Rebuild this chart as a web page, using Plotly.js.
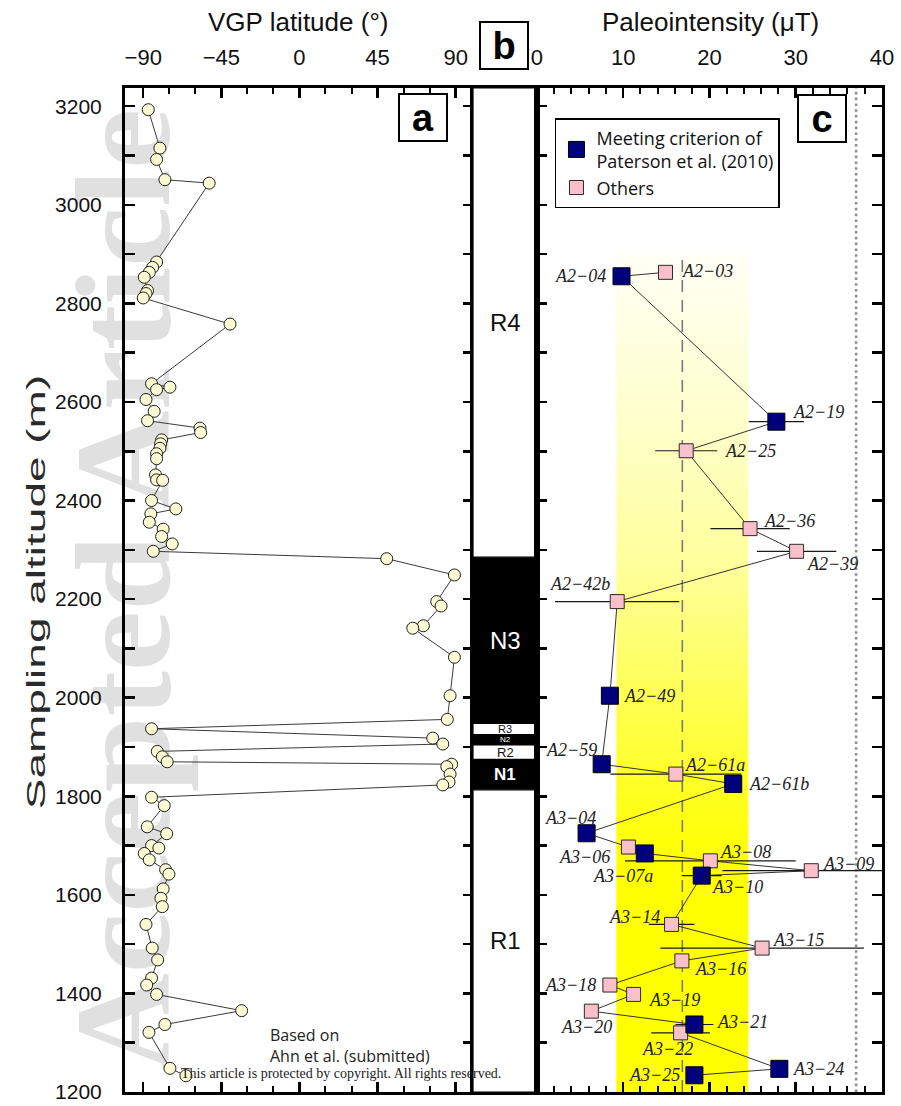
<!DOCTYPE html>
<html>
<head>
<meta charset="utf-8">
<script src="https://cdn.plot.ly/plotly-3.0.1.min.js"></script>
<style>
  html, body { margin: 0; padding: 0; background: #ffffff; }
  #chart { width: 901px; height: 1106px; }
</style>
</head>
<body>
<div id="chart"></div>
<script>
// ---------- Panel a: VGP latitude along the section ----------
const vgpAltitude = [
  3193, 3115, 3092, 3051, 3044, 2884, 2873, 2863, 2853, 2826, 2820, 2811, 2758,
  2637, 2630, 2625, 2605, 2581, 2562, 2547, 2538, 2523, 2515, 2506, 2495, 2485,
  2452, 2442, 2441, 2400, 2383, 2373, 2356, 2342, 2327, 2312, 2297, 2282, 2249,
  2195, 2186, 2146, 2141, 2082, 2004, 1956, 1937, 1918, 1906, 1891, 1880, 1870,
  1865, 1860, 1845, 1829, 1823, 1798, 1781, 1738, 1724, 1700, 1695, 1684, 1671,
  1651, 1642, 1612, 1593, 1576, 1540, 1492, 1468, 1431, 1417, 1398, 1365, 1337,
  1321, 1248, 1233
];
const vgpLatitude = [
  -87.1, -80.4, -82.3, -77.5, -52.0, -82.3, -84.6, -86.5, -89.4, -87.5, -88.4, -90.0, -40.0,
  -85.2, -74.6, -82.3, -88.4, -83.7, -87.5, -57.3, -56.9, -79.4, -80.0, -80.4, -82.3, -82.3,
  -82.9, -82.3, -78.8, -85.2, -71.2, -85.6, -86.5, -78.5, -79.4, -73.3, -84.2, 50.3, 89.3,
  79.1, 81.6, 71.4, 65.3, 89.3, 86.8, 85.2, -85.2, 76.8, 82.6, -81.9, -79.0, -76.2,
  87.7, 84.9, 86.8, 86.2, 82.6, -85.2, -77.9, -87.7, -76.5, -85.2, -81.0, -89.4, -86.5,
  -77.1, -75.2, -78.5, -79.8, -79.0, -88.4, -84.8, -81.7, -85.2, -88.0, -82.3, -33.3, -77.5,
  -86.7, -74.6, -65.4
];

// ---------- Panel b: magnetic polarity zones, top to bottom ----------
const polarityNames = ['R4', 'N3', 'R3', 'N2', 'R2', 'N1', 'R1'];
const polarityBoundaries = [2285, 1948, 1925, 1904, 1875, 1813];

// ---------- Panel c: paleointensity per sample ----------
const sampleNames = [
  'A2−03', 'A2−04', 'A2−19', 'A2−25', 'A2−36', 'A2−39', 'A2−42b', 'A2−49', 'A2−59',
  'A2−61a', 'A2−61b', 'A3−04', 'A3−06', 'A3−07a', 'A3−08', 'A3−09', 'A3−10', 'A3−14',
  'A3−15', 'A3−16', 'A3−18', 'A3−19', 'A3−20', 'A3−21', 'A3−22', 'A3−24', 'A3−25'
];
const sampleAltitude = [
  2863, 2855, 2560, 2501, 2343, 2297, 2195, 2004, 1865,
  1845, 1825, 1725, 1697, 1684, 1669, 1649, 1639, 1540,
  1492, 1466, 1417, 1398, 1364, 1337, 1320, 1247, 1234
];
const sampleIntensity = [
  14.9, 9.8, 27.75, 17.3, 24.7, 30.1, 9.3, 8.45, 7.5,
  16.1, 22.75, 5.75, 10.6, 12.5, 20.1, 31.8, 19.1, 15.6,
  26.1, 16.8, 8.45, 11.2, 6.3, 18.25, 16.65, 28.1, 18.25
];
const sampleError = [
  0, 0, 3.2, 3.6, 4.6, 4.6, 7.2, 0, 0,
  7.6, 0, 0, 0, 0, 9.9, 10.3, 2.3, 2.65,
  11.8, 0, 0, 0, 0, 2.2, 3.4, 0, 0
];
const meetsCriterion = [
  false, true, true, false, false, false, false, true, true,
  false, true, true, false, true, false, false, true, false,
  false, false, false, false, false, true, false, true, true
];

// Section mean and standard deviation, and the reference field value
const meanIntensity = 16.85;
const sdIntensity = 7.65;
const bandTopAltitude = 2900;
const referenceIntensity = 37.0;

// Axis extents
const altitudeRange = [1200, 3237];
const latitudeRange = [-100.5, 100];
const intensityRange = [0, 40];

// ---------- styling ----------
const SANS = '"Liberation Sans", Arial, sans-serif';
const SERIF = '"Liberation Serif", "Times New Roman", serif';
const HUMANIST = '"Open Sans", "Noto Sans", sans-serif';

const BLUE = '#00007f';
const PINK = '#f9c0cb';

// label offsets for each sample: [anchor, dx px, dy px]
const labelPlacement = [
  ['left', 14, 1], ['right', -14, 0], ['left', 15, 10], ['left', 37, 0], ['left', 12, 8],
  ['left', 8, -13], ['right', -5, 18], ['left', 12, 0], ['right', -3, 14], ['left', 7, 9],
  ['left', 14, 0], ['right', 11, 15], ['right', -16, -10], ['right', 10, -23], ['left', 8, 9],
  ['left', 10, 7], ['left', 8, -11], ['right', -10, 7], ['left', 9, 8], ['left', 11, -8],
  ['right', -12, 0], ['left', 13, -6], ['center', -5, -16], ['left', 21, 2], ['center', -13, -16],
  ['left', 12, 0], ['right', -12, 0]
];

// polarity label styling
const polarityLabelStyle = {
  R4: {size: 24, weight: 'normal'}, N3: {size: 24, weight: 'normal'},
  R3: {size: 11, weight: 'normal'}, N2: {size: 8, weight: 'normal'},
  R2: {size: 13, weight: 'normal'}, N1: {size: 17, weight: 'bold'},
  R1: {size: 24, weight: 'normal'}
};

// ---------- traces ----------
const traces = [];

// Panel a
traces.push({
  x: vgpLatitude, y: vgpAltitude, xaxis: 'x', yaxis: 'y',
  type: 'scatter', mode: 'lines+markers', showlegend: false, hoverinfo: 'skip',
  line: {color: '#3a3a3a', width: 1},
  marker: {symbol: 'circle', size: 12, color: '#fbfbd4', line: {color: '#1e1e1e', width: 1}}
});

// Panel c: shaded one-sigma band, fading toward the top
const bandLow = meanIntensity - sdIntensity;
const bandHigh = meanIntensity + sdIntensity;
traces.push({
  x: [bandLow, bandHigh, bandHigh, bandLow, bandLow],
  y: [bandTopAltitude, bandTopAltitude, altitudeRange[0], altitudeRange[0], bandTopAltitude],
  xaxis: 'x3', yaxis: 'y3', type: 'scatter', mode: 'none', fill: 'toself',
  fillgradient: {
    type: 'vertical',
    colorscale: [
      [0, '#ffff00'], [0.28, '#ffff00'], [0.45, '#ffff4a'],
      [0.62, '#ffff98'], [0.8, '#ffffcc'], [1, '#fffff6']
    ]
  },
  showlegend: false, hoverinfo: 'skip'
});

// mean value (dashed) and reference field (dotted)
traces.push({
  x: [meanIntensity, meanIntensity], y: [altitudeRange[0], bandTopAltitude],
  xaxis: 'x3', yaxis: 'y3', type: 'scatter', mode: 'lines',
  line: {color: '#7a7a7a', width: 1.6, dash: '12px,8px'},
  showlegend: false, hoverinfo: 'skip'
});
traces.push({
  x: [referenceIntensity, referenceIntensity], y: altitudeRange,
  xaxis: 'x3', yaxis: 'y3', type: 'scatter', mode: 'lines',
  line: {color: '#8f8f8f', width: 2.6, dash: '2.6px,3.2px'},
  showlegend: false, hoverinfo: 'skip'
});

// connecting line through all samples in stratigraphic order
traces.push({
  x: sampleIntensity, y: sampleAltitude, xaxis: 'x3', yaxis: 'y3',
  type: 'scatter', mode: 'lines', line: {color: '#333333', width: 1},
  showlegend: false, hoverinfo: 'skip'
});

function pick(arr, flag) { return arr.filter((_, i) => meetsCriterion[i] === flag); }

traces.push({
  name: 'Others',
  x: pick(sampleIntensity, false), y: pick(sampleAltitude, false),
  xaxis: 'x3', yaxis: 'y3', type: 'scatter', mode: 'markers', legendrank: 2,
  error_x: {type: 'data', array: pick(sampleError, false), visible: true, color: '#1a1a1a', thickness: 1.2, width: 0},
  marker: {symbol: 'square', size: 14, color: PINK, line: {color: '#2a2a2a', width: 1}},
  hoverinfo: 'skip'
});
traces.push({
  name: 'Meeting criterion of<br>Paterson et al. (2010)',
  x: pick(sampleIntensity, true), y: pick(sampleAltitude, true),
  xaxis: 'x3', yaxis: 'y3', type: 'scatter', mode: 'markers', legendrank: 1,
  error_x: {type: 'data', array: pick(sampleError, true), visible: true, color: '#1a1a1a', thickness: 1.2, width: 0},
  marker: {symbol: 'square', size: 17, color: BLUE, line: {color: '#000000', width: 1}},
  hoverinfo: 'skip'
});

// ---------- shapes: polarity column ----------
const shapes = [];
const annotations = [];
polarityNames.forEach((name, i) => {
  const top = i === 0 ? altitudeRange[1] : polarityBoundaries[i - 1];
  const bottom = i === polarityNames.length - 1 ? altitudeRange[0] : polarityBoundaries[i];
  const normal = name.charAt(0) === 'N';
  shapes.push({
    type: 'rect', xref: 'x2', yref: 'y2', x0: 0, x1: 1, y0: bottom, y1: top,
    fillcolor: normal ? '#000000' : '#ffffff',
    line: {width: normal ? 0 : 1.2, color: '#000000'}, layer: 'below'
  });
  const st = polarityLabelStyle[name];
  annotations.push({
    xref: 'x2', yref: 'y2', x: 0.5, y: (top + bottom) / 2, text: name, showarrow: false,
    xanchor: 'center', yanchor: 'middle',
    font: {family: SANS, size: st.size, weight: st.weight, color: normal ? '#ffffff' : '#111111'}
  });
});

// watermark along the left edge
shapes.push({
  type: 'rect', xref: 'paper', yref: 'paper', x0: -0.1, x1: 0.055, y0: 0.0, y1: 1.0,
  line: {width: 0}, fillcolor: 'rgba(0,0,0,0)', layer: 'below',
  label: {
    text: 'Accepted Article', textangle: -90, textposition: 'middle center',
    font: {family: SERIF, size: 136, weight: 'bold', color: '#e0e0e0'}
  }
});

// ---------- annotations ----------
sampleNames.forEach((name, i) => {
  const p = labelPlacement[i];
  annotations.push({
    xref: 'x3', yref: 'y3', x: sampleIntensity[i], y: sampleAltitude[i],
    text: name, showarrow: false, xanchor: p[0], yanchor: 'middle',
    xshift: p[1], yshift: p[2],
    font: {family: SERIF, size: 18, style: 'italic', color: '#222222'}
  });
});

// panel letters
const boxFont = {family: SANS, size: 38, weight: 'bold', color: '#000000'};
[['a', 0.3943, 0.9706], ['c', 0.9207, 0.9696], ['b', 0.5013, 1.0428]].forEach(([t, x, y]) => {
  annotations.push({
    xref: 'paper', yref: 'paper', x: x, y: y, text: t, showarrow: false,
    xanchor: 'center', yanchor: 'middle', font: boxFont,
    bordercolor: '#000000', borderwidth: 2, borderpad: 1, bgcolor: '#ffffff',
    width: 44, height: 43
  });
});

// top titles
annotations.push({
  xref: 'paper', yref: 'paper', x: 0.2285, y: 1.0657, text: 'VGP latitude (°)',
  showarrow: false, xanchor: 'center', yanchor: 'middle',
  font: {family: SANS, size: 26, color: '#111111'}
});
annotations.push({
  xref: 'paper', yref: 'paper', x: 0.7728, y: 1.0657, text: 'Paleointensity (μT)',
  showarrow: false, xanchor: 'center', yanchor: 'middle',
  font: {family: SANS, size: 26, color: '#111111'}
});

// source note and copyright line
annotations.push({
  xref: 'paper', yref: 'paper', x: 0.189, y: 0.046, text: 'Based on<br>Ahn et al. (submitted)',
  showarrow: false, xanchor: 'left', yanchor: 'middle', align: 'left',
  font: {family: HUMANIST, size: 16, color: '#222222'}
});
annotations.push({
  xref: 'paper', yref: 'paper', x: 0.285, y: 0.018,
  text: 'This article is protected by copyright. All rights reserved.',
  showarrow: false, xanchor: 'center', yanchor: 'middle',
  font: {family: SERIF, size: 14, color: '#222222'}
});

// ---------- axes ----------
const frame = {showline: true, linewidth: 3, linecolor: '#000000', showgrid: false, zeroline: false, layer: 'above traces'};
const majorTick = {ticks: 'inside', ticklen: 10, tickwidth: 2.5, tickcolor: '#000000', mirror: 'ticks'};
const altitudeTicks = Object.assign({}, majorTick, {
  tickmode: 'linear', tick0: 1200, dtick: 200,
  minor: {dtick: 100, ticks: 'inside', ticklen: 10, tickwidth: 2.5, tickcolor: '#000000'}
});

const layout = {
  width: 901, height: 1106,
  margin: {l: 125, r: 19, t: 88, b: 14, pad: 0},
  paper_bgcolor: '#ffffff', plot_bgcolor: 'rgba(0,0,0,0)',
  showlegend: true,
  legend: {
    x: 0.568, y: 0.9701, xanchor: 'left', yanchor: 'top',
    bgcolor: '#ffffff', bordercolor: '#000000', borderwidth: 1.5,
    font: {family: HUMANIST, size: 18, color: '#111111'},
    tracegroupgap: 2, itemwidth: 30
  },
  xaxis: Object.assign({}, frame, majorTick, {
    domain: [0, 0.45971], anchor: 'y', side: 'top', range: latitudeRange,
    tickmode: 'linear', tick0: -90, dtick: 45,
    minor: {tick0: -90, dtick: 15, ticks: 'inside', ticklen: 6, tickwidth: 2, tickcolor: '#000000'},
    tickfont: {family: SANS, size: 22, color: '#111111'}, ticklabelstandoff: 11
  }),
  yaxis: Object.assign({}, frame, altitudeTicks, {
    domain: [0, 1], anchor: 'x', range: altitudeRange,
    tickfont: {family: SANS, size: 21, color: '#111111'}, ticklabelstandoff: 16,
    title: {text: 'Sampling altitude (m)', font: {family: SANS, size: 46, color: '#2a2a2a'}, standoff: 10}
  }),
  xaxis2: Object.assign({}, frame, {
    domain: [0.45971, 0.54425], anchor: 'y2', range: [0, 1],
    showticklabels: false, ticks: '', mirror: true
  }),
  yaxis2: Object.assign({}, frame, {
    domain: [0, 1], anchor: 'x2', matches: 'y', range: altitudeRange,
    showticklabels: false, ticks: '', mirror: true
  }),
  xaxis3: Object.assign({}, frame, majorTick, {
    domain: [0.54425, 1], anchor: 'y3', side: 'top', range: intensityRange,
    tickmode: 'linear', tick0: 0, dtick: 10,
    minor: {tick0: 0, dtick: 2, ticks: 'inside', ticklen: 6, tickwidth: 2, tickcolor: '#000000'},
    tickfont: {family: SANS, size: 22, color: '#111111'}, ticklabelstandoff: 11
  }),
  yaxis3: Object.assign({}, frame, altitudeTicks, {
    domain: [0, 1], anchor: 'x3', matches: 'y', range: altitudeRange, showticklabels: false
  }),
  shapes: shapes,
  annotations: annotations
};

// The altitude title is set in a tall, narrow cut: keep the glyph run length,
// compress the glyph height and centre it beside the tick labels.
function condenseAltitudeTitle(gd) {
  const t = gd.querySelector('.g-ytitle text');
  if (!t) return;
  const b = t.getBBox();
  const lcx = b.x + b.width / 2, lcy = b.y + b.height / 2;
  const cx = 25, cy = 592;
  t.setAttribute('transform',
    'translate(' + cx + ',' + cy + ') rotate(-90) scale(1,0.56) translate(' + (-lcx) + ',' + (-lcy) + ')');
}

Plotly.newPlot('chart', traces, layout, {displayModeBar: false, staticPlot: true})
  .then(condenseAltitudeTitle);
</script>
</body>
</html>
